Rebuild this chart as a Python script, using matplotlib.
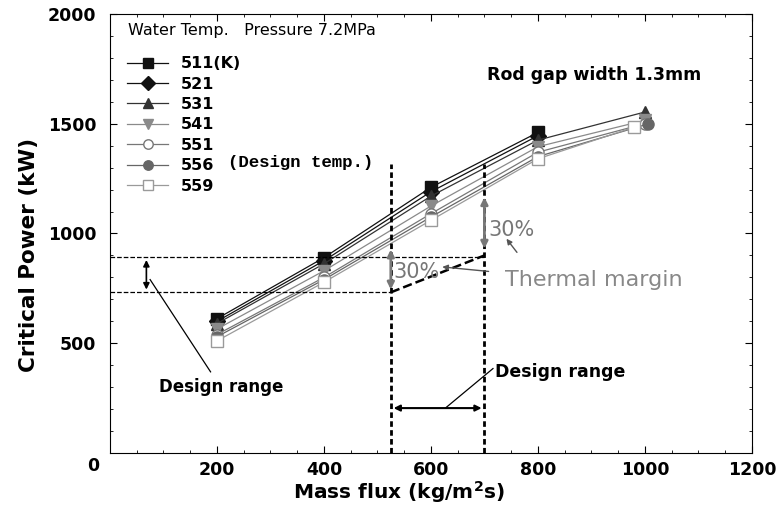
import numpy as np
import matplotlib
matplotlib.use("Agg")
import matplotlib.pyplot as plt
from matplotlib.ticker import MultipleLocator

# mass flux (kg/m2s) and critical power (kW) per inlet water temperature
temps = ['511(K)', '521', '531', '541', '551', '556', '559']
flux_511 = [200, 400, 600, 800]
cp_511 = [612, 890, 1210, 1460]
flux_521 = [200, 400, 600, 800]
cp_521 = [600, 876, 1190, 1445]
flux_531 = [200, 400, 600, 800, 1000]
cp_531 = [590, 862, 1170, 1425, 1553]
flux_541 = [200, 400, 600, 800, 1000]
cp_541 = [565, 830, 1125, 1395, 1515]
flux_551 = [200, 400, 600, 800, 1000]
cp_551 = [540, 800, 1090, 1370, 1500]
flux_556 = [200, 400, 600, 800, 1005]
cp_556 = [530, 790, 1075, 1350, 1498]
flux_559 = [200, 400, 600, 800, 980]
cp_559 = [511, 778, 1060, 1340, 1484]

fluxes = [flux_511, flux_521, flux_531, flux_541, flux_551, flux_556, flux_559]
powers = [cp_511, cp_521, cp_531, cp_541, cp_551, cp_556, cp_559]
markers = ['s', 'D', '^', 'v', 'o', 'o', 's']
colors = ['#111111', '#111111', '#333333', '#8a8a8a', '#777777', '#666666', '#9a9a9a']
faces = ['#111111', '#111111', '#333333', '#8a8a8a', 'white', '#666666', 'white']

# design envelope
design_lo, design_hi = 525, 700
cp_lo, cp_hi = 732, 892

fig = plt.figure(figsize=(7.78, 5.12), dpi=100)
ax = fig.add_axes([0.1414, 0.115, 0.825, 0.858])

for x, y, m, c, fc, lab in zip(fluxes, powers, markers, colors, faces, temps):
    ax.plot(x, y, marker=m, color=c, mfc=fc, mec=c, lw=0.9, ms=8, label=lab)

# design range lines
ax.plot([design_lo, design_lo], [0, 1315], color='black', ls=(0, (2, 1.2)), lw=2)
ax.plot([design_hi, design_hi], [0, 1315], color='black', ls=(0, (2, 1.2)), lw=2)
ax.plot([0, design_lo], [cp_lo, cp_lo], color='black', ls='--', lw=0.9)
ax.plot([0, design_hi], [cp_hi, cp_hi], color='black', ls='--', lw=0.9)
ax.plot([design_lo, design_hi], [cp_lo, 900], color='black', ls='--', lw=1.8)

# double arrows
ax.annotate('', xy=(68, cp_hi), xytext=(68, cp_lo),
            arrowprops=dict(arrowstyle='<|-|>', color='black', lw=1.2, mutation_scale=9))
ax.annotate('', xy=(design_lo, 940), xytext=(design_lo, cp_lo),
            arrowprops=dict(arrowstyle='<|-|>', color='#777777', lw=2, mutation_scale=10))
ax.annotate('', xy=(design_hi, 1178), xytext=(design_hi, 918),
            arrowprops=dict(arrowstyle='<|-|>', color='#777777', lw=2, mutation_scale=10))
ax.annotate('', xy=(design_lo, 205), xytext=(design_hi, 205),
            arrowprops=dict(arrowstyle='<|-|>', color='black', lw=1.5, mutation_scale=9))

# text
ax.text(33, 1925, 'Water Temp.   Pressure 7.2MPa', fontsize=11.5, va='center')
ax.text(905, 1720, 'Rod gap width 1.3mm', fontsize=12.5, fontweight='bold',
        ha='center', va='center')
ax.text(221, 1324, '(Design temp.)', fontsize=12.5, family='Liberation Mono',
        fontweight='bold', va='center')
ax.text(530, 826, '30%', fontsize=15, color='#777777', va='center')
ax.text(708, 1018, '30%', fontsize=15, color='#777777', va='center')
ax.text(738, 790, 'Thermal margin', fontsize=16, color='#888888', va='center')
ax.annotate('', xy=(616, 849), xytext=(713, 826),
            arrowprops=dict(arrowstyle='-|>', color='#555555', lw=1, mutation_scale=8))
ax.annotate('', xy=(738, 986), xytext=(764, 904),
            arrowprops=dict(arrowstyle='-|>', color='#555555', lw=1, mutation_scale=8))
ax.text(207, 301, 'Design range', fontsize=12, fontweight='bold', ha='center', va='center')
ax.plot([75, 188], [790, 370], color='black', lw=0.9)
ax.text(719, 370, 'Design range', fontsize=12.5, fontweight='bold', va='center')
ax.plot([716, 628], [385, 207], color='black', lw=0.9)

ax.set_xlim(0, 1200)
ax.set_ylim(0, 2000)
ax.xaxis.set_major_locator(MultipleLocator(200))
ax.xaxis.set_minor_locator(MultipleLocator(50))
ax.yaxis.set_major_locator(MultipleLocator(500))
ax.yaxis.set_minor_locator(MultipleLocator(100))
ax.tick_params(which='both', direction='in', top=True, right=True)
ax.tick_params(which='major', length=5, labelsize=12.5)
ax.tick_params(which='minor', length=2.5)
ax.tick_params(axis='y', pad=10)
ax.tick_params(axis='x', pad=6)
ax.set_xticks([200, 400, 600, 800, 1000, 1200])
ax.set_yticks([500, 1000, 1500, 2000])
for t in ax.get_xticklabels() + ax.get_yticklabels():
    t.set_fontweight('bold')
ax.annotate('0', xy=(0, 0), xytext=(-12, -9), textcoords='offset points',
            ha='center', va='center', fontsize=12.5, fontweight='bold')
ax.set_xlabel('Mass flux (kg/m$^\\mathbf{2}$s)', fontsize=14.5, fontweight='bold')
ax.set_ylabel('Critical Power (kW)', fontsize=15.5, fontweight='bold')
ax.xaxis.set_label_coords(0.45, -0.06)
ax.yaxis.set_label_coords(-0.11, 0.45)

ax.legend(loc='upper left', bbox_to_anchor=(0.009, 0.929), frameon=False,
          handlelength=2.6, labelspacing=0.34, borderpad=0.2,
          handletextpad=0.8, markerscale=0.85,
          prop={'weight': 'bold', 'size': 11.5})

fig.savefig('out.png', dpi=100)
